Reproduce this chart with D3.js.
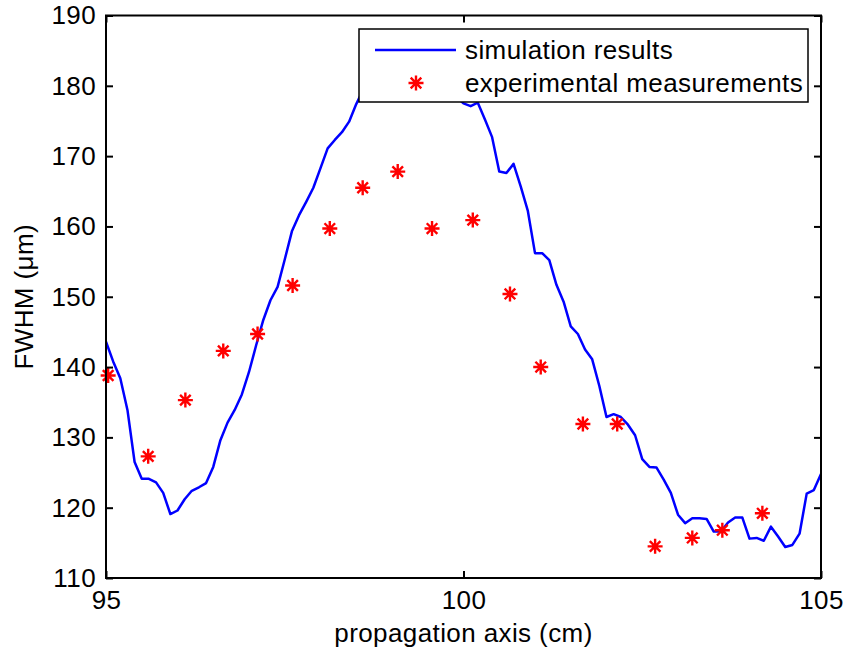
<!DOCTYPE html>
<html>
<head>
<meta charset="utf-8">
<script src="https://cdn.jsdelivr.net/npm/d3@7"></script>
<style>
  html, body { margin: 0; padding: 0; background: #fff; }
  svg { display: block; font-family: "Liberation Sans", Arial, Helvetica, sans-serif; }
  svg text { letter-spacing: 0.4px; }
</style>
</head>
<body>
<div id="chart"></div>
<script>
// propagation axis (cm) for the simulated curve
var simX = [95.0, 95.1, 95.2, 95.3, 95.4, 95.5, 95.6, 95.7, 95.8, 95.9,
            96.0, 96.1, 96.2, 96.3, 96.4, 96.5, 96.6, 96.7, 96.8, 96.9,
            97.0, 97.1, 97.2, 97.3, 97.4, 97.5, 97.6, 97.7, 97.8, 97.9,
            98.0, 98.1, 98.2, 98.3, 98.4, 98.5, 98.6, 98.7, 98.8, 98.9,
            99.0, 99.1, 99.2, 99.3, 99.4, 99.5, 99.6, 99.7, 99.8, 99.9,
            100.0, 100.1, 100.2, 100.3, 100.4, 100.5, 100.6, 100.7, 100.8, 100.9,
            101.0, 101.1, 101.2, 101.3, 101.4, 101.5, 101.6, 101.7, 101.8, 101.9,
            102.0, 102.1, 102.2, 102.3, 102.4, 102.5, 102.6, 102.7, 102.8, 102.9,
            103.0, 103.1, 103.2, 103.3, 103.4, 103.5, 103.6, 103.7, 103.8, 103.9,
            104.0, 104.1, 104.2, 104.3, 104.4, 104.5, 104.6, 104.7, 104.8, 104.9,
            105.0];
// FWHM (um), simulation
var simY = [143.6, 140.8, 138.4, 133.9, 126.5, 124.1, 124.1, 123.6, 122.1, 119.1,
            119.6, 121.2, 122.4, 122.9, 123.5, 125.8, 129.6, 132.1, 133.9, 136.1,
            139.3, 143.1, 146.7, 149.5, 151.4, 155.3, 159.3, 161.6, 163.5, 165.5,
            168.3, 171.1, 172.3, 173.4, 174.9, 177.4, 179.5, 181.0, 182.3, 183.5,
            184.0, 184.8, 185.0, 184.6, 184.0, 183.2, 182.0, 180.8, 179.6, 178.4,
            177.5, 177.1, 177.6, 175.2, 172.7, 167.8, 167.6, 168.9, 165.7, 162.2,
            156.2, 156.2, 155.2, 151.7, 149.3, 145.8, 144.7, 142.5, 141.1, 137.3,
            132.9, 133.3, 132.9, 131.8, 130.3, 126.9, 125.8, 125.7, 124.0, 122.1,
            119.0, 117.8, 118.5, 118.5, 118.4, 116.6, 116.6, 117.9, 118.6, 118.6,
            115.6, 115.7, 115.3, 117.3, 115.9, 114.4, 114.7, 116.3, 122.0, 122.5,
            124.8];

// experimental measurements
var expX = [95.03, 95.59, 96.11, 96.64, 97.12, 97.61, 98.13, 98.59, 99.08, 99.56,
            100.13, 100.65, 101.08, 101.67, 102.15, 102.68, 103.20, 103.62, 104.18];
var expY = [138.8, 127.3, 135.3, 142.3, 144.7, 151.6, 159.7, 165.5, 167.8, 159.7,
            160.9, 150.4, 140.0, 131.9, 131.9, 114.5, 115.7, 116.8, 119.2];

var xTicks = [95, 100, 105];
var yTicks = [110, 120, 130, 140, 150, 160, 170, 180, 190];
var legendLabels = ["simulation results", "experimental measurements"];

var W = 847, H = 653;
var FS = '26px';
var margin = {left: 106, right: 26, top: 15.5, bottom: 75};
var pw = W - margin.left - margin.right,
    ph = H - margin.top - margin.bottom;

var svg = d3.select('#chart').append('svg')
    .attr('width', W).attr('height', H);
svg.append('rect').attr('width', W).attr('height', H).attr('fill', '#fff');

var g = svg.append('g').attr('transform', 'translate(' + margin.left + ',' + margin.top + ')');

var x = d3.scaleLinear().domain([95, 105]).range([0, pw]);
var y = d3.scaleLinear().domain([110, 190]).range([ph, 0]);

svg.append('clipPath').attr('id', 'plotclip')
    .append('rect').attr('width', pw).attr('height', ph);

// simulation curve
var line = d3.line()
    .x(function (d, i) { return x(simX[i]); })
    .y(function (d) { return y(d); });
g.append('path')
    .datum(simY)
    .attr('clip-path', 'url(#plotclip)')
    .attr('d', line)
    .attr('fill', 'none')
    .attr('stroke', '#0000ff')
    .attr('stroke-width', 2.5)
    .attr('stroke-linejoin', 'round');

// asterisk marker
function star(r) {
    var a = r * Math.SQRT1_2;
    return 'M' + (-r) + ',0L' + r + ',0' +
           'M0,' + (-r) + 'L0,' + r +
           'M' + (-a) + ',' + (-a) + 'L' + a + ',' + a +
           'M' + (-a) + ',' + a + 'L' + a + ',' + (-a);
}

g.selectAll('.exp')
    .data(expY)
    .enter().append('path')
    .attr('class', 'exp')
    .attr('transform', function (d, i) { return 'translate(' + x(expX[i]) + ',' + y(d) + ')'; })
    .attr('d', star(7.5))
    .attr('stroke', '#ff0000')
    .attr('stroke-width', 2.4)
    .attr('fill', 'none');

// axes (MATLAB box with inward ticks on all sides)
var tickLen = 7;
var axisStyle = function (sel) {
    sel.attr('font-family', null).attr('font-size', null);
    sel.select('.domain').remove();
    sel.selectAll('.tick line').attr('stroke', '#000').attr('stroke-width', 2);
    sel.selectAll('.tick text').attr('fill', '#000').style('font-size', FS);
};

g.append('g').attr('transform', 'translate(0,' + ph + ')')
    .call(d3.axisBottom(x).tickValues(xTicks).tickSize(-tickLen).tickPadding(13).tickFormat(d3.format('d')))
    .call(axisStyle);
g.append('g')
    .call(d3.axisTop(x).tickValues(xTicks).tickSize(-tickLen).tickFormat(''))
    .call(axisStyle);
g.append('g')
    .call(d3.axisLeft(y).tickValues(yTicks).tickSize(-tickLen).tickPadding(10).tickFormat(d3.format('d')))
    .call(axisStyle);
g.append('g').attr('transform', 'translate(' + pw + ',0)')
    .call(d3.axisRight(y).tickValues(yTicks).tickSize(-tickLen).tickFormat(''))
    .call(axisStyle);

g.append('rect')
    .attr('width', pw).attr('height', ph)
    .attr('fill', 'none').attr('stroke', '#000').attr('stroke-width', 2);

// axis labels
svg.append('text')
    .attr('x', margin.left + pw / 2).attr('y', 642)
    .attr('text-anchor', 'middle')
    .style('font-size', FS)
    .text('propagation axis (cm)');
svg.append('text')
    .attr('transform', 'translate(33,' + (margin.top + ph / 2) + ') rotate(-90)')
    .attr('text-anchor', 'middle')
    .style('font-size', FS)
    .text('FWHM (\u03bcm)');

// legend
var lg = svg.append('g').attr('transform', 'translate(359,29)');
lg.append('rect')
    .attr('width', 449).attr('height', 73)
    .attr('fill', '#fff').attr('stroke', '#000').attr('stroke-width', 1.5);
lg.append('line')
    .attr('x1', 16).attr('x2', 97).attr('y1', 21).attr('y2', 21)
    .attr('stroke', '#0000ff').attr('stroke-width', 2.5);
lg.append('path')
    .attr('transform', 'translate(57,54)')
    .attr('d', star(7.5))
    .attr('stroke', '#ff0000').attr('stroke-width', 2.4).attr('fill', 'none');
lg.selectAll('.lt')
    .data(legendLabels)
    .enter().append('text')
    .attr('class', 'lt')
    .attr('x', 106)
    .attr('y', function (d, i) { return 30 + i * 33; })
    .style('font-size', FS)
    .text(function (d) { return d; });
</script>
</body>
</html>
